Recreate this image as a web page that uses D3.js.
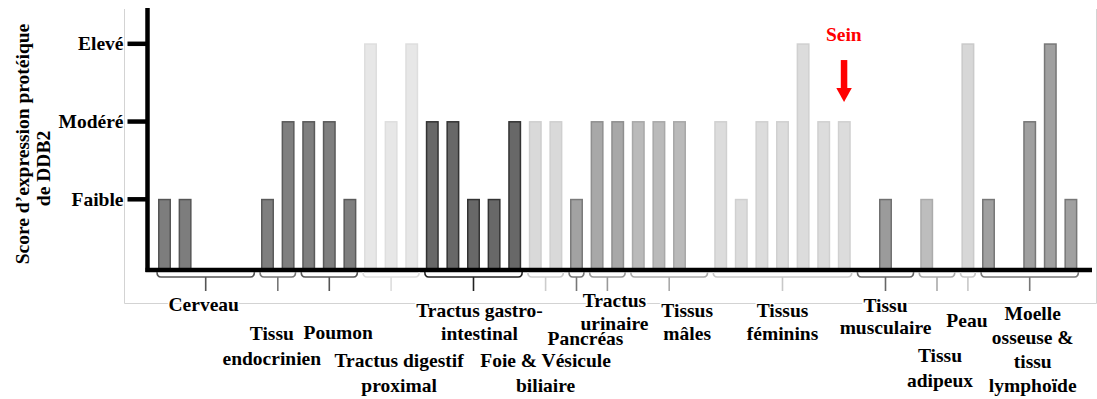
<!DOCTYPE html>
<html><head><meta charset="utf-8">
<script src="https://cdn.jsdelivr.net/npm/d3@7"></script>
<style>
html,body{margin:0;padding:0;background:#fff;}
svg{display:block;font-family:"Liberation Serif","Times New Roman",serif;font-weight:bold;}
</style></head>
<body><svg id="chart" width="1097" height="399"></svg>
<script>
// ---- data ----
const levelLabels = ["Faible", "Modéré", "Elevé"];
const levelValues = [1, 2, 3];
// expression score per tissue slot (0 = no bar)
const scores = [1,1,0,0,0, 1,2, 2,2,1, 3,2,3, 2,2,1,1,2, 2,2, 1, 2,2, 2,2,2,0, 2,1,2,2,3,2,2, 0,1,0, 1,0, 3, 1,0,2,3,1];
const groupNames = [
  ["Cerveau"],
  ["Tissu","endocrinien"],
  ["Poumon"],
  ["Tractus digestif","proximal"],
  ["Tractus gastro-","intestinal"],
  ["Foie & Vésicule","biliaire"],
  ["Pancréas"],
  ["Tractus","urinaire"],
  ["Tissus","mâles"],
  ["Tissus","féminins"],
  ["Tissu","musculaire"],
  ["Tissu","adipeux"],
  ["Peau"],
  ["Moelle","osseuse &","tissu","lymphoïde"]
];
const groupSizes = [5,2,3,3,5,2,1,2,4,7,3,2,1,5];
const highlightLabel = "Sein";
const highlightIndex = 33;
const yTitle = ["Score d\u2019expression protéique", "de DDB2"];

// ---- styles / layout ----
const groupFill = ["#7d7d7d","#7f7f7f","#7f7f7f","#e7e7e7","#686868","#d9d9d9","#a2a2a2","#a8a8a8","#bababa","#dcdcdc","#9b9b9b","#bdbdbd","#d7d7d7","#a0a0a0"];
const groupStroke = ["#555","#5a5a5a","#5a5a5a","#dedede","#333","#cfcfcf","#7a7a7a","#8f8f8f","#a8a8a8","#d0d0d0","#707070","#ababab","#cacaca","#777"];
const bracketColor = ["#555","#777","#555","#dddddd","#222","#cccccc","#777","#999","#aaa","#c8c8c8","#666","#aaa","#c8c8c8","#777"];
const labelDx = [-2,-6,9,8,6,0,9,7,18,0,0,3,-1,3];
const labelTop = [310.5,340,338.5,366.5,316.5,366.5,345,307,316.5,316.5,311.5,361.5,326.5,320];
const labelLH = [24,25,24,25,23.5,25,24,22.5,23,23,22.5,25,24,24];

const svg = d3.select("#chart");
const x = d3.scaleBand().domain(d3.range(scores.length)).range([154.2, 1081.2]).paddingInner(0.37).paddingOuter(0.185);
const y = d3.scaleLinear().domain([0.11, 3]).range([268, 43.3]);
const axisY = 270;

// frame
const frame = svg.append("g").attr("stroke","#d3d3d3").attr("stroke-width",1).attr("fill","none");
frame.append("path").attr("d","M124.5,9 V303.5 H1096.5 V9");

// groups → slot mapping
const starts = [];
groupSizes.reduce((acc, n, i) => { starts[i] = acc; return acc + n; }, 0);
const slotGroup = [];
groupSizes.forEach((n, gi) => { for (let k = 0; k < n; k++) slotGroup.push(gi); });

// bars
svg.append("g").selectAll("rect")
  .data(scores.map((v, i) => ({v, i, g: slotGroup[i]})).filter(d => d.v > 0))
  .join("rect")
  .attr("x", d => x(d.i) + 0.75)
  .attr("width", x.bandwidth() - 1.5)
  .attr("y", d => y(d.v) + 0.75)
  .attr("height", d => y(0.11) - y(d.v))
  .attr("fill", d => groupFill[d.g])
  .attr("stroke", d => groupStroke[d.g])
  .attr("stroke-width", 1.5);

// axes
svg.append("line").attr("x1",147.5).attr("x2",147.5).attr("y1",8).attr("y2",axisY+2)
  .attr("stroke","#000").attr("stroke-width",4.5);
svg.append("line").attr("x1",145.5).attr("x2",1092).attr("y1",axisY).attr("y2",axisY)
  .attr("stroke","#000").attr("stroke-width",4.5);

const yAxis = d3.axisLeft(y).tickValues(levelValues).tickFormat((d, i) => levelLabels[i]).tickSize(20).tickPadding(4);
const gy = svg.append("g").attr("transform","translate(147.5,0)").call(yAxis);
gy.select(".domain").remove();
gy.selectAll(".tick line").attr("stroke","#000").attr("stroke-width",4.5);
gy.selectAll(".tick text").attr("fill","#000").attr("font-size",19.5)
  .attr("font-family","Liberation Serif, serif").attr("font-weight","bold").attr("dy","0.33em");

// y title
yTitle.forEach((t, i) => {
  const pos = i === 0 ? [29, 144] : [50, 168.5];
  svg.append("text").attr("transform",`translate(${pos[0]},${pos[1]}) rotate(-90)`)
    .attr("text-anchor","middle").attr("font-size",19.5).text(t);
});

// brackets
const br = svg.append("g").attr("fill","none").attr("stroke-width",1.6);
groupSizes.forEach((n, gi) => {
  const a = starts[gi], b = a + n - 1;
  const x0 = x(a) - 1, x1 = x(b) + x.bandwidth() + 1;
  const mid = (x0 + x1) / 2;
  const yb = 277;
  const hook = Math.min(4, (x1 - x0) / 4);
  br.append("path")
    .attr("d", `M${x0},${yb-5} Q${x0},${yb} ${x0+hook},${yb} H${x1-hook} Q${x1},${yb} ${x1},${yb-5} M${mid},${yb} V${yb+14}`)
    .attr("stroke", bracketColor[gi]);
});

// group labels
const lab = svg.append("g").attr("text-anchor","middle").attr("font-size",19.5)
  .attr("stroke","#fff").attr("stroke-width",3).attr("paint-order","stroke").attr("fill","#000");
groupNames.forEach((lines, gi) => {
  const a = starts[gi], b = a + groupSizes[gi] - 1;
  const cx = (x(a) + x(b) + x.bandwidth()) / 2 + labelDx[gi];
  const t = lab.append("text").attr("x", cx).attr("y", labelTop[gi]);
  lines.forEach((l, li) => {
    t.append("tspan").attr("x", cx).attr("dy", li === 0 ? 0 : labelLH[gi]).text(l);
  });
});

// highlight (Sein)
const hx = x(highlightIndex) + x.bandwidth() / 2 - 0.5;
const tipY = y(scores[highlightIndex]) - 19;
svg.append("text").attr("x", hx).attr("y", tipY - 61).attr("text-anchor","middle")
  .attr("fill","#ff0000").attr("font-size",19.5).text(highlightLabel);
svg.append("rect").attr("x", hx - 3).attr("width", 6.5).attr("y", tipY - 42).attr("height", 29).attr("fill","#ff0000");
svg.append("path").attr("d", `M${hx-7.5},${tipY-14} L${hx+8},${tipY-14} L${hx+0.25},${tipY} Z`).attr("fill","#ff0000");
</script>
</body></html>
